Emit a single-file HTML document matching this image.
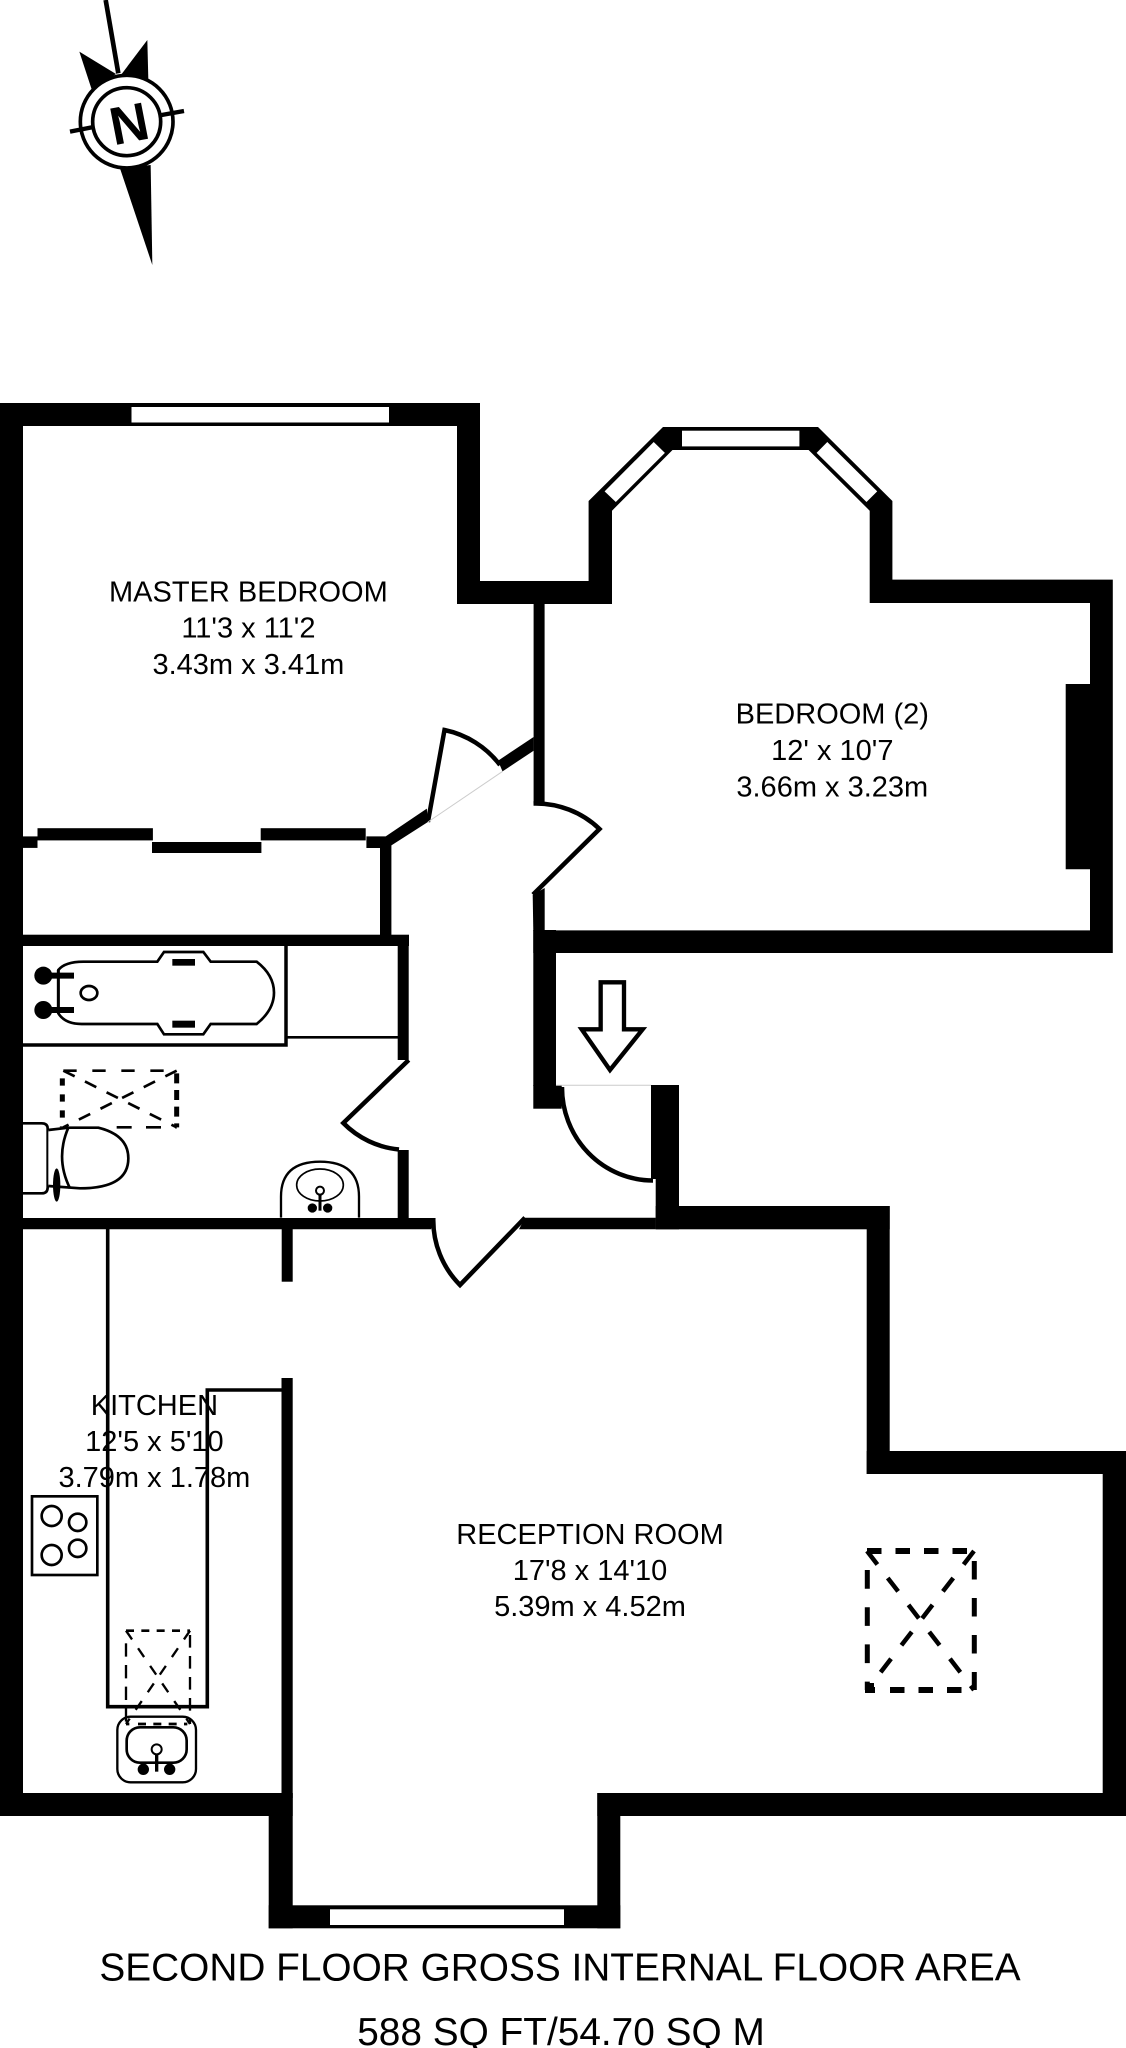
<!DOCTYPE html>
<html><head><meta charset="utf-8"><style>
html,body{margin:0;padding:0;background:#fff}
svg{display:block}
text{font-family:"Liberation Sans",Arial,sans-serif;fill:#000;text-anchor:middle}
.r{font-size:29px}
.b{font-size:38.8px}
</style></head><body>
<svg width="1126" height="2048" viewBox="0 0 1126 2048" xmlns="http://www.w3.org/2000/svg">
<rect width="1126" height="2048" fill="#fff"/>

<!-- north -->
<g transform="translate(40,0) scale(.33333)">
<path d="M197,0L235,220" stroke="#000" stroke-width="14" fill="none"/>
<polygon points="118,155 228,222 155,268"/>
<polygon points="322,120 325,240 245,222"/>
<polygon points="240,505 332,495 337,795"/>
<circle cx="260" cy="365" r="139" fill="#fff" stroke="#000" stroke-width="11"/>
<circle cx="260" cy="365" r="102" fill="#fff" stroke="#000" stroke-width="11"/>
<path d="M90,395L155,382M365,345L432,333" stroke="#000" stroke-width="13" fill="none"/>
<text transform="translate(267,368) rotate(-11)" y="58" style="font-size:160px;font-weight:bold">N</text>
</g>

<!-- walls -->
<g fill="#000">
<rect x="0" y="403" width="23" height="1413"/>
<rect x="0" y="403" width="480" height="23"/>
<rect x="457" y="403" width="23" height="201"/>
<rect x="457" y="581" width="155" height="23"/>
<polygon points="588.6,604 588.6,501 663,427 818,427 892.4,501 892.4,579.6 1112.8,579.6 1112.8,953 533.3,953 533.3,930.4 1090,930.4 1090,869.3 1065.7,869.3 1065.7,684 1090,684 1090,603 869.7,603 869.7,510.7 808.6,450 672.5,450 612,510.7 612,604"/>
<rect x="533.6" y="604" width="11" height="199.5"/>
<polygon points="532.7,895 544.7,888 544.7,931 533.3,931"/>
<rect x="533.3" y="930" width="22.7" height="156"/>
<rect x="533.3" y="1085" width="28.4" height="23.7"/>
<rect x="651" y="1085" width="28" height="94"/>
<rect x="655.7" y="1179" width="23.3" height="50.3"/>
<rect x="655.7" y="1206" width="234" height="23.3"/>
<rect x="866.7" y="1206" width="23" height="268"/>
<rect x="866.7" y="1451" width="259.3" height="23"/>
<rect x="1102.7" y="1451" width="23.3" height="365"/>
<rect x="597.3" y="1793" width="528.7" height="23"/>
<rect x="597.3" y="1793" width="23" height="135.3"/>
<rect x="268.7" y="1793" width="24" height="135.3"/>
<rect x="268.7" y="1905.3" width="351.6" height="23"/>
<rect x="0" y="1793" width="292.7" height="23"/>
<rect x="281.5" y="1378" width="11.2" height="420"/>
<polygon points="0,1218 435,1218 431,1229.3 0,1229.3"/>
<polygon points="525,1217.7 655.7,1217.7 655.7,1229.3 519,1229.3"/>
<rect x="23" y="934.7" width="386" height="11.3"/>
<rect x="397.7" y="935" width="11" height="125"/>
<rect x="397.7" y="1150" width="11" height="68"/>
<rect x="281.7" y="1229" width="11" height="52.7"/>
<!-- wardrobe -->
<rect x="23" y="836.4" width="14.5" height="11.5"/>
<rect x="37.5" y="828.2" width="115.4" height="12.2"/>
<rect x="152" y="842" width="109.4" height="11"/>
<rect x="260.7" y="828.2" width="105" height="12.2"/>
<polygon points="366.4,836.4 385.7,836.4 426.8,808.6 427.9,822 391.4,845.4 391.4,935 380,935 380,848 366.4,848"/>
<polygon points="498,760.7 533.6,737 533.6,750.7 502.5,771.4"/>
</g>

<!-- windows -->
<g fill="#fff">
<rect x="131.5" y="407" width="257.5" height="15.5"/>
<rect x="682" y="430.7" width="117.4" height="15.7"/>
<polygon points="653.7,442 664.9,452.9 615.8,502 604.6,491.4"/>
<polygon points="827.3,442 816.6,452.9 866.5,502 877.2,491.4"/>
<rect x="330" y="1909.3" width="234" height="15.7"/>
</g>

<!-- doors -->
<g fill="none" stroke="#000" stroke-width="4.5">
<path d="M427.9,822L444.5,730A94,94 0 0 1 500,765"/>
<path d="M533,894.6L599.5,829A92,92 0 0 0 533.5,803.5"/>
<path d="M408.7,1060L343.3,1123A90,90 0 0 0 399,1149.5"/>
<path d="M525,1217.7L460,1285A92,92 0 0 1 433.3,1218"/>
<path d="M562,1087A91,93 0 0 0 653,1180.5"/>
</g>
<path d="M427.9,822L502.5,771.4" stroke="#ccc" stroke-width="1" fill="none"/>
<path d="M556,1085.3H651" stroke="#ccc" stroke-width="1" fill="none"/>

<!-- arrow -->
<g transform="translate(320,920) scale(.33333)">
<polygon points="842,187 912,187 912,328 968,328 870,450 785,328 842,328" fill="#fff" stroke="#000" stroke-width="13"/>
</g>

<!-- bathroom -->
<path d="M23,1045H286V946" fill="none" stroke="#000" stroke-width="3.5"/>
<path d="M286,1037.3H398" fill="none" stroke="#000" stroke-width="2.6"/>
<g transform="translate(0,920) scale(.33333)" fill="none" stroke="#000">
<path d="M175,150Q195,125 250,125L472,125L492,96L610,96L632,125L770,125Q822,165 822,218Q822,270 770,312L632,312L610,343L492,343L472,312L245,312Q195,312 175,280Z" stroke-width="8"/>
<path d="M175,150V280" stroke-width="9"/>
<path d="M150,167H222M150,270H222" stroke-width="18"/>
<circle cx="130" cy="167" r="27" fill="#000" stroke="none"/>
<circle cx="130" cy="270" r="27" fill="#000" stroke="none"/>
<ellipse cx="267" cy="219" rx="25" ry="21" stroke-width="8"/>
<rect x="517" y="117" width="68" height="20" fill="#000" stroke="none"/>
<rect x="517" y="302" width="68" height="21" fill="#000" stroke="none"/>
<!-- shower dashed -->
<path d="M190,452H530" stroke-width="8" stroke-dasharray="40 47"/>
<path d="M350,622H530" stroke-width="8" stroke-dasharray="45 43"/>
<path d="M187,475V622" stroke-width="15" stroke-dasharray="22 26"/>
<path d="M530,460V622" stroke-width="15" stroke-dasharray="30 20"/>
<path d="M190,452L530,622M530,452L190,622" stroke-width="8" stroke-dasharray="38 34.5"/>
<!-- toilet -->
<path d="M69,610H125Q143,610 143,626V802Q143,820 125,820H69" fill="#fff" stroke-width="8"/>
<path d="M145,630L205,623H295Q385,645 385,715Q385,805 240,805L145,798" fill="#fff" stroke-width="8"/>
<path d="M205,623Q165,715 210,805" stroke-width="8"/>
<ellipse cx="170" cy="795" rx="11" ry="50" fill="#000" stroke="none"/>
<!-- basin -->
<path d="M843,893V830Q843,725 960,725Q1077,725 1077,830V893" stroke-width="7"/>
<ellipse cx="960" cy="795" rx="70" ry="48" stroke-width="5"/>
<path d="M960,825V872" stroke-width="9"/>
<circle cx="960" cy="812" r="12" fill="#fff" stroke-width="6"/>
<circle cx="937" cy="864" r="14" fill="#000" stroke="none"/>
<circle cx="983" cy="864" r="14" fill="#000" stroke="none"/>
</g>

<!-- kitchen -->
<path d="M107.7,1229V1706.7H207.3V1390H282" fill="none" stroke="#000" stroke-width="3.6"/>
<g transform="translate(0,1300) scale(.33333)" fill="none" stroke="#000">
<rect x="96" y="589" width="196" height="236" stroke-width="8"/>
<circle cx="155" cy="648" r="30" stroke-width="8"/>
<circle cx="233" cy="667" r="26" stroke-width="8"/>
<circle cx="155" cy="765" r="30" stroke-width="8"/>
<circle cx="233" cy="745" r="26" stroke-width="8"/>
<path d="M378,992H570" stroke-width="8" stroke-dasharray="24 22"/>
<path d="M378,1272H570" stroke-width="8" stroke-dasharray="10 26 24 22 24 22 24 22"/>
<path d="M378,1030V1272" stroke-width="7" stroke-dasharray="40 25"/>
<path d="M570,1005V1272" stroke-width="7" stroke-dasharray="38 25"/>
<path d="M378,992L570,1272M570,992L378,1272" stroke-width="7" stroke-dasharray="32 32"/>
<rect x="352" y="1250" width="236" height="197" rx="40" stroke-width="7"/>
<rect x="380" y="1282" width="180" height="106" rx="40" stroke-width="8"/>
<path d="M470,1365V1415" stroke-width="10"/>
<circle cx="470" cy="1348" r="15" fill="#fff" stroke-width="6"/>
<circle cx="430" cy="1408" r="17" fill="#000" stroke="none"/>
<circle cx="509" cy="1408" r="17" fill="#000" stroke="none"/>
</g>

<!-- reception skylight -->
<g fill="none" stroke="#000">
<path d="M867,1551H974" stroke-width="6" stroke-dasharray="14.5 14"/>
<path d="M867,1690H974" stroke-width="6" stroke-dasharray="8 15 14.5 14 14.5 14 14.5 14"/>
<path d="M867.3,1570V1690" stroke-width="5" stroke-dasharray="18.7 18.5"/>
<path d="M974.3,1561V1690" stroke-width="5" stroke-dasharray="18.5 18.5"/>
<path d="M867,1551L974,1690M974,1551L867,1690" stroke-width="4.5" stroke-dasharray="17 17"/>
</g>
<rect x="865" y="1683" width="9" height="10"/>

<!-- labels -->
<text class="r" x="248.4" y="601.4">MASTER BEDROOM</text>
<text class="r" x="248.4" y="637.7">11'3 x 11'2</text>
<text class="r" x="248.4" y="674">3.43m x 3.41m</text>
<text class="r" x="832.3" y="723.6">BEDROOM (2)</text>
<text class="r" x="832.3" y="760">12' x 10'7</text>
<text class="r" x="832.3" y="796.4">3.66m x 3.23m</text>
<text class="r" x="154.4" y="1415">KITCHEN</text>
<text class="r" x="154.4" y="1451">12'5 x 5'10</text>
<text class="r" x="154.4" y="1487">3.79m x 1.78m</text>
<text class="r" x="590" y="1544">RECEPTION ROOM</text>
<text class="r" x="590" y="1580">17'8 x 14'10</text>
<text class="r" x="590" y="1616">5.39m x 4.52m</text>
<text class="b" x="560" y="1980.7">SECOND FLOOR GROSS INTERNAL FLOOR AREA</text>
<text class="b" x="561" y="2045">588 SQ FT/54.70 SQ M</text>
</svg>
</body></html>
